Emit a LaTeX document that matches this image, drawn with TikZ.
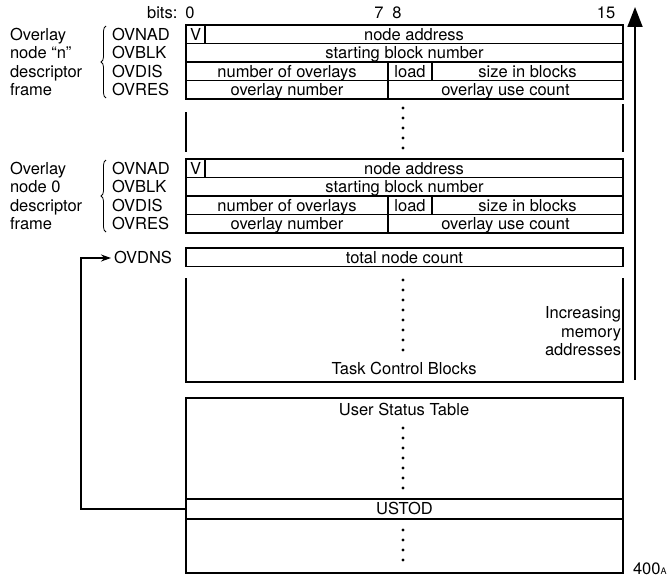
\documentclass[tikz,border=0pt]{standalone}
\usepackage{fontspec}
\setmainfont{TeX Gyre Heros}
\usetikzlibrary{arrows.meta,decorations.pathreplacing}

\tikzset{
  cell/.style={draw, minimum height=18.5pt, inner sep=0pt, outer sep=0pt, anchor=north west},
  lbl/.style={anchor=west, inner sep=0pt, outer sep=0pt},
  bitno/.style={inner sep=0pt},
  dotmark/.style={fill=black}
}

\begin{document}
\begin{tikzpicture}[x=1pt, y=-1pt, line width=1.2pt,
    every node/.style={font=\fontsize{16.5}{18.5}\selectfont, text height=11.8pt, text depth=0pt}]
  \useasboundingbox[fill=white] (0,0) rectangle (668,578);

  % 1. 位号
  \node[bitno, anchor=east] (bits) at (178,13) {bits:};
  \node[bitno] (b0) at (190,13) {0};
  \node[bitno] (b7) at (379,13) {7};
  \node[bitno] (b8) at (397,13) {8};
  \node[bitno] (b15) at (606,13) {15};

  % 2. 两个覆盖节点描述帧
  \foreach \t/\k/\nm in {25/n/{node “n”}, 159/z/{node 0}} {
    \node[cell, minimum width=19pt] (v\k) at (186,\t) {V};
    \node[cell, minimum width=418pt] (nad\k) at (205,\t) {node address};
    \node[cell, minimum width=437pt] (blk\k) at (186,\t+18.5) {starting block number};
    \node[cell, minimum width=202pt] (nov\k) at (186,\t+37) {number of overlays};
    \node[cell, minimum width=44pt] (load\k) at (388,\t+37) {load};
    \node[cell, minimum width=191pt] (siz\k) at (432,\t+37) {size in blocks};
    \node[cell, minimum width=202pt] (onum\k) at (186,\t+55.5) {overlay number};
    \node[cell, minimum width=235pt] (ouse\k) at (388,\t+55.5) {overlay use count};
    % 字段名
    \node[lbl] (ovnad\k) at (112,\t+9.25) {OVNAD};
    \node[lbl] (ovblk\k) at (112,\t+27.75) {OVBLK};
    \node[lbl] (ovdis\k) at (112,\t+46.25) {OVDIS};
    \node[lbl] (ovres\k) at (112,\t+64.75) {OVRES};
    % 左侧说明
    \node[lbl] at (10,\t+9.25) {Overlay};
    \node[lbl] at (10,\t+27.75) {\nm};
    \node[lbl] at (10,\t+46.25) {descriptor};
    \node[lbl] at (10,\t+64.75) {frame};
    \draw[line width=0.8pt, decorate, decoration={brace, amplitude=5pt}]
      (106,\t+73) -- (106,\t+1);
  }

  % 3. 中间省略段
  \draw (186,112) -- (186,152);
  \draw (623,104) -- (623,152);
  \foreach \y in {108,118,...,148} \fill[dotmark] (403,\y) circle (1.6pt);

  % 4. 节点总数与任务控制块
  \node[cell, minimum width=437pt] (tot) at (186,248) {total node count};
  \node[lbl] (ovdns) at (114,258) {OVDNS};
  \draw (186,278) -- (186,382) -- (623,382) -- (623,278);
  \foreach \y in {280,290,...,350} \fill[dotmark] (403,\y) circle (1.6pt);
  \node (tcb) at (404,369) {Task Control Blocks};
  \foreach \s/\r in {Increasing/313, memory/332, addresses/350}
    \node[lbl, anchor=east] at (621,\r) {\s};

  % 5. 用户状态表
  \node[draw, minimum width=437pt, minimum height=175pt, inner sep=0pt, outer sep=0pt,
    anchor=north west] (ust) at (186,398) {};
  \node (usttl) at (404,410) {User Status Table};
  \foreach \y in {428,438,...,488} \fill[dotmark] (403,\y) circle (1.6pt);
  \node[cell, minimum width=437pt, minimum height=20pt] (ustod) at (186,499) {USTOD};
  \foreach \y in {530,540,...,560} \fill[dotmark] (403,\y) circle (1.6pt);

  % 6. 指针与地址方向箭头
  \draw[-{Stealth[length=10pt, width=7pt]}] (ustod.west) -- ++(-105,0) |- ([xshift=-3pt]ovdns.west);
  \coordinate (lo) at (635,380);
  \coordinate (hi) at (635,7);
  \draw[line width=1.8pt, -{Triangle[length=20pt, width=15pt]}] (lo) -- (hi);

  \node[lbl] (fig) at (633,569) {400{\fontsize{9}{9}\selectfont A}};
\end{tikzpicture}
\end{document}
